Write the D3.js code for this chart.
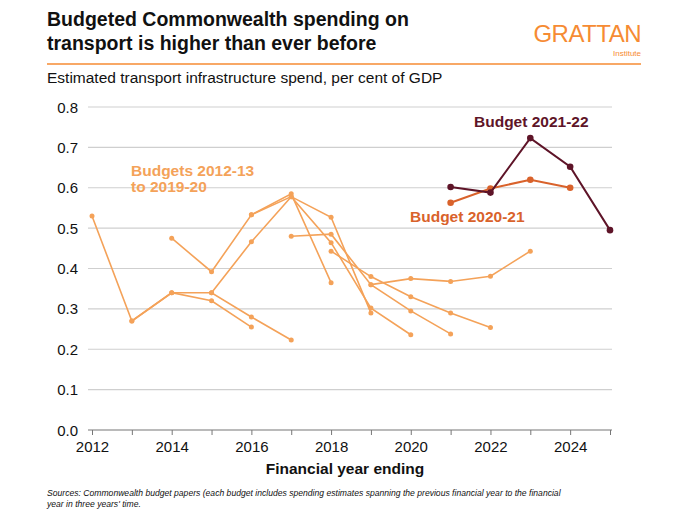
<!DOCTYPE html>
<html><head><meta charset="utf-8">
<script src="https://cdn.jsdelivr.net/npm/d3@7"></script>
<style>body{margin:0;background:#fff}svg{font-family:"Liberation Sans",Arial,sans-serif}</style>
</head><body><svg id="c" width="680" height="510"></svg>
<script>
const yTicks = [0,0.1,0.2,0.3,0.4,0.5,0.6,0.7,0.8];
const xTicks = [2012,2014,2016,2018,2020,2022,2024];
const oldBudgets = [
  {name:"2012-13", years:[2012,2013,2014,2015,2016], values:[0.53,0.27,0.34,0.32,0.255]},
  {name:"2013-14", years:[2013,2014,2015,2016,2017], values:[0.27,0.34,0.34,0.28,0.223]},
  {name:"2014-15", years:[2014,2015,2016,2017,2018], values:[0.475,0.392,0.533,0.585,0.365]},
  {name:"2015-16", years:[2015,2016,2017,2018,2019], values:[0.34,0.466,0.578,0.527,0.29]},
  {name:"2016-17", years:[2016,2017,2018,2019,2020], values:[0.533,0.578,0.464,0.302,0.236]},
  {name:"2017-18", years:[2017,2018,2019,2020,2021], values:[0.48,0.485,0.36,0.295,0.238]},
  {name:"2018-19", years:[2018,2019,2020,2021,2022], values:[0.443,0.38,0.33,0.29,0.254]},
  {name:"2019-20", years:[2019,2020,2021,2022,2023], values:[0.36,0.375,0.368,0.381,0.443]}
];
const b2021Years = [2021,2022,2023,2024];
const b2021Values = [0.563,0.598,0.62,0.6];
const b2122Years = [2021,2022,2023,2024,2025];
const b2122Values = [0.602,0.588,0.723,0.652,0.495];

const svg = d3.select("#c");
const x = d3.scaleLinear().domain([2012,2025]).range([92,610]);
const y = d3.scaleLinear().domain([0,0.8]).range([430,107]);

svg.append("text").attr("x",47).attr("y",26).attr("font-size",19.5).attr("font-weight","bold").attr("fill","#111").text("Budgeted Commonwealth spending on");
svg.append("text").attr("x",47).attr("y",50).attr("font-size",19.5).attr("font-weight","bold").attr("fill","#111").text("transport is higher than ever before");
svg.append("text").attr("x",641).attr("y",42).attr("text-anchor","end").attr("font-size",24).attr("fill","#F68B33").attr("letter-spacing","-0.5").text("GRATTAN");
svg.append("text").attr("x",641).attr("y",56).attr("text-anchor","end").attr("font-size",8).attr("fill","#F68B33").text("Institute");
svg.append("line").attr("x1",47).attr("x2",641).attr("y1",64).attr("y2",64).attr("stroke","#F68B33").attr("stroke-width",1.5);
svg.append("text").attr("x",47).attr("y",83).attr("font-size",15.5).attr("fill","#111").text("Estimated transport infrastructure spend, per cent of GDP");

svg.append("g").selectAll("line").data(yTicks.filter(d=>d>0)).join("line")
  .attr("x1",88).attr("x2",612).attr("y1",d=>y(d)).attr("y2",d=>y(d)).attr("stroke","#cfcfcf").attr("stroke-width",1.2);
svg.append("g").selectAll("text").data(yTicks).join("text")
  .attr("x",78).attr("y",d=>y(d)+5.5).attr("text-anchor","end").attr("font-size",15).attr("fill","#111").text(d=>d.toFixed(1));
const xa = svg.append("g").attr("transform","translate(0,430)")
  .call(d3.axisBottom(x).tickValues(d3.range(2012,2026)).tickSize(5).tickFormat(d=>xTicks.includes(d)?d:""));
xa.select(".domain").attr("d","M88,0H612").attr("stroke","#777").attr("stroke-width",1.2);
xa.selectAll(".tick line").attr("stroke","#777");
xa.selectAll("text").attr("font-size",15).attr("fill","#111").attr("dy","0.9em").attr("font-family","Liberation Sans, Arial");
svg.append("text").attr("x",345).attr("y",474).attr("text-anchor","middle").attr("font-size",15.5).attr("font-weight","bold").attr("fill","#111").text("Financial year ending");

const line = d3.line().x(d=>x(d[0])).y(d=>y(d[1]));
function series(years, values, color, w, r){
  const pts = years.map((yr,i)=>[yr,values[i]]);
  svg.append("path").datum(pts).attr("d",line).attr("fill","none").attr("stroke",color).attr("stroke-width",w);
  svg.append("g").selectAll("circle").data(pts).join("circle").attr("cx",d=>x(d[0])).attr("cy",d=>y(d[1])).attr("r",r).attr("fill",color);
}
const light="#F4A259";
oldBudgets.forEach(b=>series(b.years,b.values,light,1.6,2.5));
series(b2021Years,b2021Values,"#D9622B",2,3.3);
series(b2122Years,b2122Values,"#5E1428",2,3.3);

svg.append("text").attr("x",131).attr("y",176).attr("font-size",15.5).attr("font-weight","bold").attr("fill",light).text("Budgets 2012-13");
svg.append("text").attr("x",131).attr("y",192).attr("font-size",15.5).attr("font-weight","bold").attr("fill",light).text("to 2019-20");
svg.append("text").attr("x",410).attr("y",222).attr("font-size",15.5).attr("font-weight","bold").attr("fill","#D9622B").text("Budget 2020-21");
svg.append("text").attr("x",474).attr("y",127).attr("font-size",15.5).attr("font-weight","bold").attr("fill","#5E1428").text("Budget 2021-22");

svg.append("text").attr("x",47).attr("y",496).attr("font-size",8.6).attr("font-style","italic").attr("fill","#111").text("Sources: Commonwealth budget papers (each budget includes spending estimates spanning the previous financial year to the financial");
svg.append("text").attr("x",47).attr("y",507).attr("font-size",8.6).attr("font-style","italic").attr("fill","#111").text("year in three years' time.");
</script></body></html>
